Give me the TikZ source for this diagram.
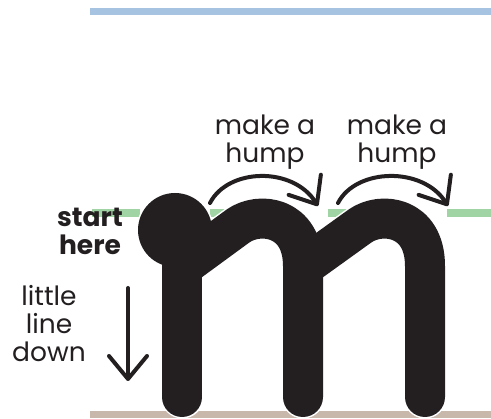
\documentclass[tikz,border=0pt]{standalone}
\usepackage{fontspec}
\setmainfont{Poppins}
\usetikzlibrary{arrows.meta}

\definecolor{inkblack}{RGB}{35,31,32}
\definecolor{topblue}{RGB}{166,196,226}
\definecolor{midgreen}{RGB}{160,212,164}
\definecolor{basebrown}{RGB}{200,184,172}

\tikzset{
  guide/.style={line width=7.5pt},
  stroke arrow/.style={inkblack, line width=4pt, line cap=round,
    -{Straight Barb[length=23pt, width=38pt, round]}},
  label/.style={align=center, inner sep=0pt, text=inkblack,
    font=\fontsize{26.5}{28}\selectfont}
}

\begin{document}
\begin{tikzpicture}[x=1pt, y=-1pt]
  \useasboundingbox (0,0) rectangle (491,419);

  % -------------------------------------------------------
  % Writing lines: top, middle (dashed by the letter), base
  % -------------------------------------------------------
  \draw[guide, topblue]   (90, 11.5) -- (491, 11.5);
  \draw[guide, midgreen]  (92, 213) -- (140, 213);
  \draw[guide, midgreen]  (210, 213) -- (240, 213);
  \draw[guide, midgreen]  (328, 213) -- (360, 213);
  \draw[guide, midgreen]  (447, 213) -- (491, 213);
  \draw[guide, basebrown] (90, 414.5) -- (491, 414.5);

  % ---- the letter m (white halo first, then ink) ----
  \foreach \pen/\w/\r in {white/43/38.5, inkblack/40/37} {
    \fill[\pen] (175,230) circle (\r pt);
    \draw[\pen, line width=\w pt, line cap=round]
      (182,240) -- (182,397);
    \draw[\pen, line width=\w pt, line cap=round, line join=round]
      (182,267) -- (238,226) .. controls (259,211) and (303,216) .. (303,266)
      -- (303,397);
    \draw[\pen, line width=\w pt, line cap=round, line join=round]
      (303,267) -- (360,226) .. controls (381,211) and (425,216) .. (425,266)
      -- (425,397);
  }

  % Labels (base anchor sits on the last line)
  \node[label, font=\fontsize{26.5}{28}\selectfont\bfseries, anchor=base]
    (start) at (90,255) {start\\here};
  \node[label, anchor=base] (hump1) at (265,163) {make a\\hump};
  \node[label, anchor=base] (hump2) at (397,163) {make a\\hump};
  \node[label, anchor=base] (down) at (49,362) {little\\line\\down};

  % ---- stroke arrows ----
  \coordinate (h1s) at (210,203);
  \coordinate (h1e) at (318,206);
  \coordinate (h2s) at (338,203);
  \coordinate (h2e) at (448,206);
  \coordinate (d1) at (128,288);
  \coordinate (d2) at (128,381);

  \draw[stroke arrow] (h1s) .. controls (228,168) and (293,166) .. (h1e);
  \draw[stroke arrow] (h2s) .. controls (356,168) and (423,166) .. (h2e);
  \draw[stroke arrow] (d1) -- (d2);

\end{tikzpicture}
\end{document}
